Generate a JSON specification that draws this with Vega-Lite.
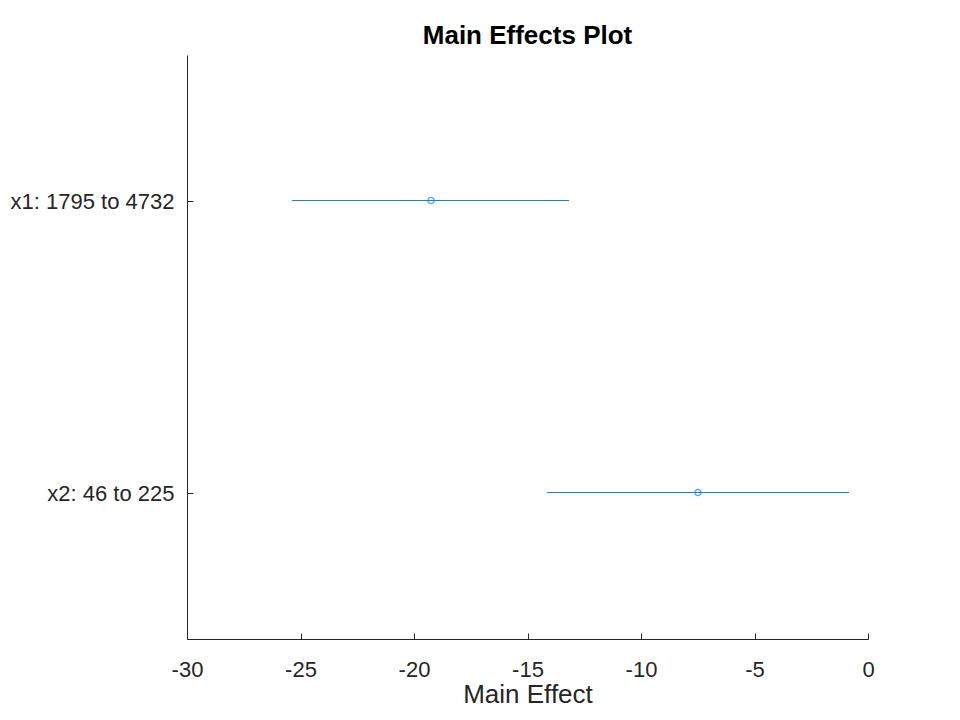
{
  "$schema": "https://vega.github.io/schema/vega-lite/v6.json",
  "autosize": "none",
  "width": 681,
  "height": 584,
  "padding": {"left": 187, "top": 55, "right": 92, "bottom": 81},
  "background": "white",
  "title": {"text": "Main Effects Plot", "font": "Liberation Sans", "fontSize": 26, "fontWeight": "bold", "color": "#000000", "offset": 6, "anchor": "middle"},
  "config": {"view": {"stroke": null}},
  "data": {"values": [
    {"term": "x1: 1795 to 4732", "effect": -19.25, "lo": -25.37, "hi": -13.17},
    {"term": "x2: 46 to 225", "effect": -7.49, "lo": -14.14, "hi": -0.84}
  ]},
  "layer": [
    {
      "mark": {"type": "rule", "color": "#0f82e6", "strokeWidth": 1, "yOffset": -0.5},
      "encoding": {
        "y": {"field": "term", "type": "nominal", "sort": null,
          "scale": {"type": "point", "padding": 0.5},
          "axis": {"title": null, "domainColor": "#262626", "tickColor": "#262626", "tickSize": -6, "labelFont": "Liberation Sans", "labelFontSize": 22, "labelColor": "#262626", "labelPadding": 19, "grid": false}},
        "x": {"field": "lo", "type": "quantitative",
          "scale": {"domain": [-30, 0], "nice": false, "zero": false},
          "axis": {"title": "Main Effect", "values": [-30, -25, -20, -15, -10, -5, 0], "labelFlush": false, "labelOverlap": false, "labelExpr": "replace(datum.label, '\u2212', '-')", "domainColor": "#262626", "tickColor": "#262626", "tickSize": -6, "labelFont": "Liberation Sans", "labelFontSize": 22, "labelColor": "#262626", "labelPadding": 26, "grid": false, "titleFont": "Liberation Sans", "titleFontSize": 26, "titleFontWeight": "normal", "titleColor": "#262626", "titlePadding": 1}},
        "x2": {"field": "hi"}
      }
    },
    {
      "mark": {"type": "point", "shape": "circle", "filled": false, "color": "#0f82e6", "size": 38, "strokeWidth": 1.3, "yOffset": -0.5},
      "encoding": {
        "y": {"field": "term", "type": "nominal", "sort": null},
        "x": {"field": "effect", "type": "quantitative"}
      }
    }
  ]
}
